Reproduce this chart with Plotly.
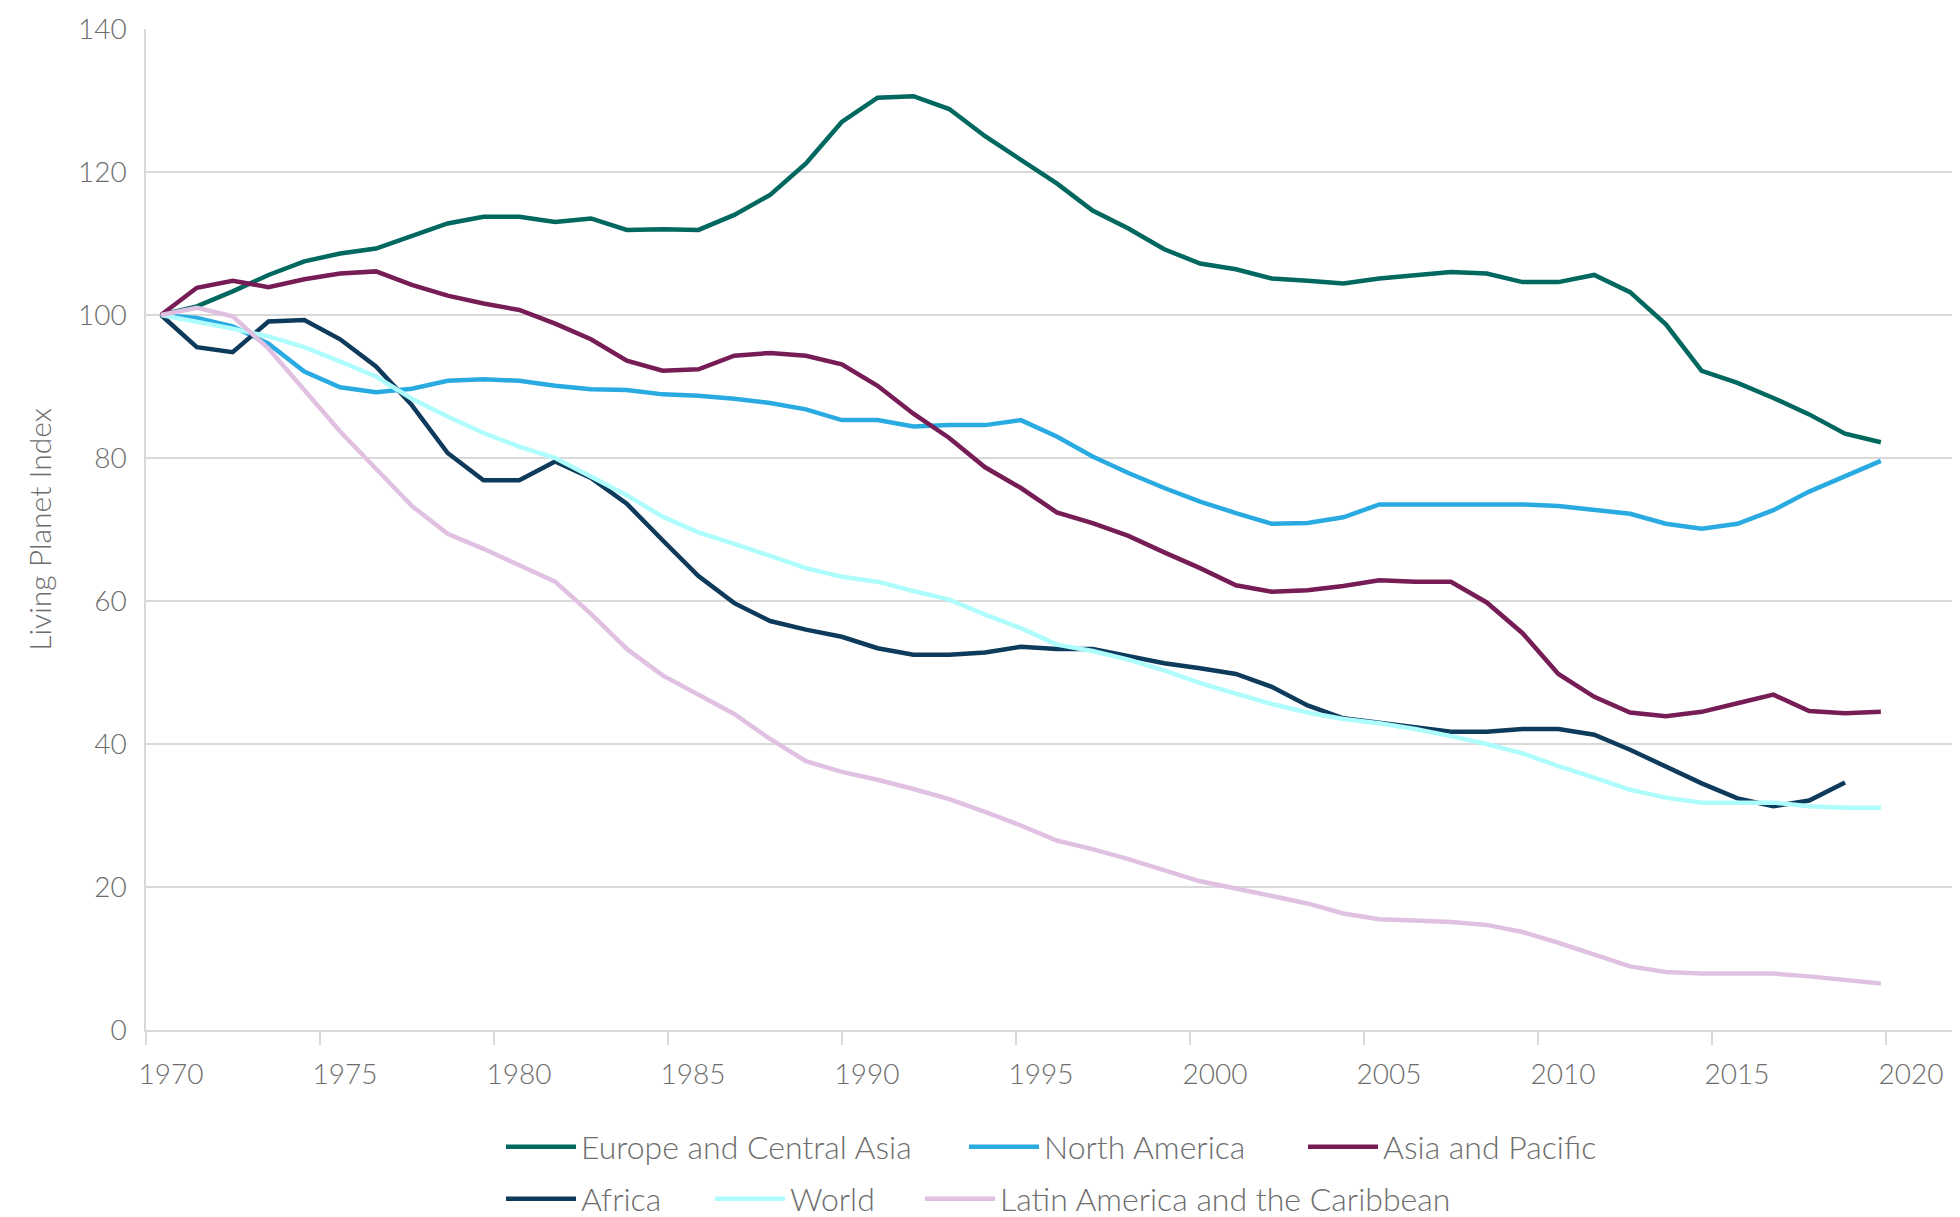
import plotly.graph_objects as go

# Living Planet Index by region, 1970-2018 (Africa to 2017)
years = list(range(1970, 2019))
tick_years = list(range(1970, 2021, 5))

europe_central_asia = [100, 101.2, 103.3, 105.6, 107.5, 108.6, 109.3, 111.0, 112.8, 113.75,
                       113.75, 113.0, 113.5, 111.9, 112.0, 111.9, 114.0, 116.8, 121.2, 127.0,
                       130.4, 130.6, 128.8, 125.0, 121.7, 118.4, 114.6, 112.1, 109.2, 107.2,
                       106.4, 105.1, 104.8, 104.4, 105.1, 105.5, 106.0, 105.8, 104.6, 104.6,
                       105.6, 103.2, 98.7, 92.2, 90.5, 88.4, 86.1, 83.4, 82.2]

north_america = [100, 99.6, 98.4, 96.0, 92.1, 89.9, 89.2, 89.7, 90.8, 91.0,
                 90.8, 90.1, 89.6, 89.5, 88.9, 88.7, 88.3, 87.7, 86.8, 85.3,
                 85.3, 84.4, 84.6, 84.6, 85.3, 83.0, 80.2, 77.9, 75.8, 73.9,
                 72.3, 70.8, 70.9, 71.7, 73.5, 73.5, 73.5, 73.5, 73.5, 73.3,
                 72.7, 72.2, 70.8, 70.1, 70.8, 72.7, 75.3, 77.5, 79.6]

asia_pacific = [100, 103.8, 104.8, 103.9, 105.0, 105.8, 106.1, 104.2, 102.7, 101.6,
                100.7, 98.8, 96.6, 93.6, 92.2, 92.4, 94.3, 94.7, 94.3, 93.1,
                90.1, 86.2, 82.8, 78.7, 75.8, 72.4, 70.9, 69.1, 66.8, 64.6,
                62.2, 61.3, 61.5, 62.1, 62.9, 62.7, 62.7, 59.8, 55.5, 49.8,
                46.6, 44.4, 43.9, 44.5, 45.7, 46.9, 44.6, 44.3, 44.5]

africa = [100, 95.5, 94.8, 99.1, 99.3, 96.6, 92.8, 87.4, 80.7, 76.9,
          76.9, 79.5, 77.2, 73.6, 68.5, 63.5, 59.7, 57.2, 56.0, 55.0,
          53.4, 52.5, 52.5, 52.8, 53.6, 53.3, 53.3, 52.3, 51.3, 50.6,
          49.8, 48.0, 45.4, 43.6, 43.0, 42.3, 41.7, 41.7, 42.1, 42.1,
          41.3, 39.2, 36.9, 34.5, 32.4, 31.3, 32.1, 34.6]

world = [100, 99.1, 98.1, 97.0, 95.5, 93.5, 91.4, 88.3, 85.8, 83.5,
         81.6, 80.0, 77.4, 74.8, 71.8, 69.6, 68.0, 66.3, 64.6, 63.4,
         62.7, 61.4, 60.2, 58.1, 56.2, 53.9, 53.0, 51.8, 50.3, 48.5,
         47.0, 45.6, 44.4, 43.5, 42.9, 42.1, 41.1, 40.0, 38.7, 36.9,
         35.3, 33.6, 32.5, 31.8, 31.8, 31.8, 31.3, 31.1, 31.1]

latin_america = [100, 101.0, 99.8, 95.3, 89.5, 83.7, 78.5, 73.3, 69.4, 67.3,
                 65.0, 62.7, 58.2, 53.3, 49.6, 46.9, 44.2, 40.7, 37.6, 36.1,
                 35.0, 33.7, 32.3, 30.5, 28.6, 26.5, 25.3, 23.9, 22.4, 20.8,
                 19.8, 18.8, 17.7, 16.3, 15.5, 15.3, 15.1, 14.7, 13.7, 12.2,
                 10.5, 8.9, 8.1, 7.9, 7.9, 7.9, 7.5, 7.0, 6.5]

series = [
    ('Europe and Central Asia', europe_central_asia, '#00685f'),
    ('North America', north_america, '#29abe2'),
    ('Asia and Pacific', asia_pacific, '#761d56'),
    ('Africa', africa, '#0e3a5b'),
    ('World', world, '#aefcfc'),
    ('Latin America and the Caribbean', latin_america, '#e0c1e2'),
]

# legend slot (left edge, row centre) in page pixels for each series
legend_slots = [(501, 1147), (964, 1147), (1303, 1147),
                (501, 1199), (710, 1199), (920, 1199)]

PAGE_W, PAGE_H = 1960, 1217
BODY = 8  # default page margin round the plot div
W, H = PAGE_W - BODY, PAGE_H - BODY
L, R, T, B = 138, 0, 21, 187
plot_w, plot_h = W - L - R, H - T - B

# the year labels sit 34.8 px apart, the data points 35.83 px apart,
# with the first point 15 px right of the 1970 tick (as in the source chart)
LABEL_STEP, DATA_STEP, DATA_OFFSET = 34.8, 35.83, 15


def label_pos(year):
    return 1970 + ((year - 1970) * LABEL_STEP - DATA_OFFSET) / DATA_STEP


FONT = 'Lato'
GREY_TEXT = '#6d6d6d'
GRID = '#d9d9d9'

fig = go.Figure()

layout_legends = {}
for k, (name, values, color) in enumerate(series):
    legend_id = 'legend' if k == 0 else 'legend%d' % (k + 1)
    fig.add_trace(
        go.Scatter(
            x=years[:len(values)],
            y=values,
            mode='lines',
            name=name,
            line=dict(color=color, width=4.5),
            legend=legend_id,
            showlegend=True,
        )
    )
    lx, ly = legend_slots[k]
    layout_legends[legend_id] = dict(
        xref='container',
        yref='container',
        x=(lx - BODY) / W,
        y=1 - (ly - BODY) / H,
        xanchor='left',
        yanchor='middle',
        orientation='h',
        bgcolor='rgba(0,0,0,0)',
        font=dict(family=FONT, size=32, color=GREY_TEXT, weight=300),
        itemwidth=70,
    )

fig.update_layout(
    width=W,
    height=H,
    margin=dict(l=L, r=R, t=T, b=B),
    showlegend=True,
    plot_bgcolor='white',
    paper_bgcolor='white',
    font=dict(family=FONT, color=GREY_TEXT, weight=300),
    xaxis=dict(
        range=[1970 - DATA_OFFSET / DATA_STEP, 1970 + (plot_w - DATA_OFFSET) / DATA_STEP],
        tickvals=[label_pos(y) for y in tick_years],
        ticktext=[str(y) for y in tick_years],
        ticks='outside',
        ticklen=13,
        tickwidth=1.5,
        tickcolor=GRID,
        showgrid=False,
        zeroline=False,
        showline=True,
        linecolor=GRID,
        linewidth=1.5,
        ticklabelshift=25,
        ticklabelstandoff=6,
        automargin=False,
        tickfont=dict(family=FONT, size=28, color=GREY_TEXT, weight=300),
    ),
    yaxis=dict(
        range=[0, 140],
        dtick=20,
        showgrid=True,
        gridcolor=GRID,
        gridwidth=1.5,
        zeroline=False,
        showline=True,
        linecolor=GRID,
        linewidth=1.5,
        ticks='',
        ticklabelstandoff=12,
        automargin=False,
        tickfont=dict(family=FONT, size=28, color=GREY_TEXT, weight=300),
        title=dict(text='Living Planet Index', standoff=17,
                   font=dict(family=FONT, size=30, color=GREY_TEXT, weight=300)),
    ),
    **layout_legends,
)

fig.write_html('out.html')
